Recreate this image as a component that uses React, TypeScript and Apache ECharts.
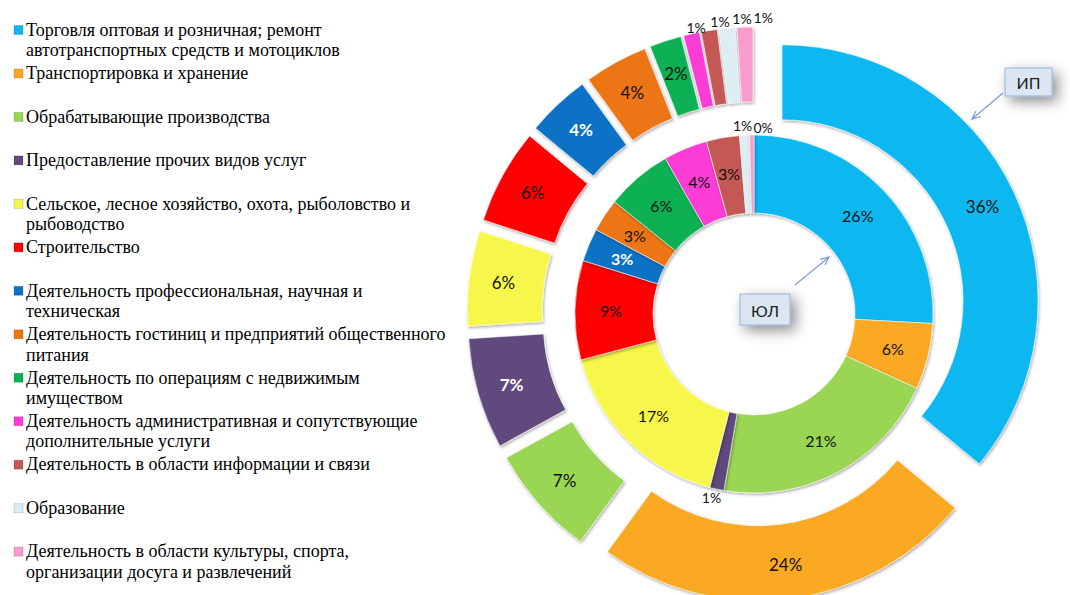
import React, { useEffect, useRef } from "react";
import * as echarts from "echarts";

// ---- data ----
const categories: string[] = [
  "Торговля оптовая и розничная; ремонт\nавтотранспортных средств и мотоциклов",
  "Транспортировка и хранение",
  "Обрабатывающие производства",
  "Предоставление прочих видов услуг",
  "Сельское, лесное хозяйство, охота, рыболовство и\nрыбоводство",
  "Строительство",
  "Деятельность профессиональная, научная и\nтехническая",
  "Деятельность гостиниц и предприятий общественного\nпитания",
  "Деятельность по операциям с недвижимым\nимуществом",
  "Деятельность административная и сопутствующие\nдополнительные услуги",
  "Деятельность в области информации и связи",
  "Образование",
  "Деятельность в области культуры, спорта,\nорганизации досуга и развлечений",
];

// ЮЛ (inner ring), percent
const innerValues: number[] = [26, 6, 21, 1.3, 17, 9, 3, 3, 6, 4, 3, 0.9, 0.4];
// ИП (outer ring), percent
const outerValues: number[] = [36, 24, 7, 7, 6, 6, 4, 4, 2, 1, 1, 1, 1];

const innerName = "ЮЛ";
const outerName = "ИП";

// ---- styles ----
const colors: string[] = [
  "#0BB8F0",
  "#FBA823",
  "#9AD652",
  "#604A7B",
  "#F7F74C",
  "#FF0000",
  "#0C72C6",
  "#EC7614",
  "#0CB152",
  "#FB3CD5",
  "#C45855",
  "#DCEDF3",
  "#F99BCB",
];
const whiteLabelInner = new Set([6]);
const whiteLabelOuter = new Set([3, 6]);

const CX = 754;
const CY = 314;
const EXPLODE = 31;
const INNER_R: [number, number] = [101, 179];
const OUTER_R: [number, number] = [181, 256];
const LABEL_FONT = "Lato";

// label nudges for small outside labels
const outerSmallOffsets: Record<number, [number, number]> = {
  9: [20, -3],
  10: [26, -6],
  11: [30, -7],
  12: [33, -7],
};
const innerOutsideOffsets: Record<number, [number, number]> = {
  3: [10, 5],
  11: [13, -7],
  12: [26, -5],
};

const blank = {
  color: "rgba(0,0,0,0)",
  borderWidth: 0,
  shadowBlur: 0,
  shadowColor: "rgba(0,0,0,0)",
};

function sliceStyle(c: string) {
  return {
    color: c,
    borderColor: "rgba(255,255,255,0.55)",
    borderWidth: 1,
    shadowBlur: 3,
    shadowOffsetX: 1,
    shadowOffsetY: 1.5,
    shadowColor: "rgba(0,0,0,0.35)",
  };
}

function arrowHead(x1: number, y1: number, x2: number, y2: number, len = 9, spread = 0.42) {
  const a = Math.atan2(y1 - y2, x1 - x2);
  return [
    [x2 + len * Math.cos(a + spread), y2 + len * Math.sin(a + spread)],
    [x2, y2],
    [x2 + len * Math.cos(a - spread), y2 + len * Math.sin(a - spread)],
  ];
}

function buildOption() {
  const outerTotal = outerValues.reduce((s, v) => s + v, 0);
  let acc = 0;
  const outerSeries = outerValues.map((v, i) => {
    const before = acc;
    acc += v;
    const mid = ((before + v / 2) / outerTotal) * Math.PI * 2;
    const center = [CX + EXPLODE * Math.sin(mid), CY - EXPLODE * Math.cos(mid)];
    const small = v / outerTotal < 0.015;
    const off = outerSmallOffsets[i] || [0, 0];
    return {
      type: "pie",
      name: outerName,
      silent: true,
      startAngle: 90,
      clockwise: true,
      radius: OUTER_R,
      center,
      avoidLabelOverlap: false,
      labelLayout: { hideOverlap: false },
      z: 2,
      labelLine: { show: false, length: 3, length2: 0 },
      data: [
        { value: before, name: "_before", itemStyle: blank, label: { show: false } },
        {
          value: v,
          name: categories[i],
          itemStyle: sliceStyle(colors[i]),
          label: {
            show: true,
            position: small ? "outside" : "inside",
            formatter: (p: any) => Math.round(p.value) + "%",
            color: whiteLabelOuter.has(i) ? "#FFFFFF" : "#111111",
            fontFamily: LABEL_FONT,
            fontSize: small ? 14 : 17,
            fontWeight: whiteLabelOuter.has(i) ? "bold" : "normal",
            offset: off,
          },
        },
        { value: outerTotal - before - v, name: "_after", itemStyle: blank, label: { show: false } },
      ],
    };
  });

  const innerSeries = {
    type: "pie",
    name: innerName,
    silent: true,
    startAngle: 90,
    clockwise: true,
    radius: INNER_R,
    center: [CX, CY],
    avoidLabelOverlap: false,
    labelLayout: { hideOverlap: false },
    z: 2,
    labelLine: { show: false, length: 3, length2: 0 },
    data: innerValues.map((v, i) => {
      const outside = v < 1.5;
      return {
        value: v,
        name: categories[i],
        itemStyle: sliceStyle(colors[i]),
        label: {
          show: true,
          position: outside ? "outside" : "inside",
          formatter: (p: any) => Math.round(p.value) + "%",
          color: whiteLabelInner.has(i) ? "#FFFFFF" : "#111111",
          fontFamily: LABEL_FONT,
          fontSize: outside ? 14 : 16,
          fontWeight: whiteLabelInner.has(i) ? "bold" : "normal",
          offset: innerOutsideOffsets[i] || [0, 0],
        },
        labelLine: { show: false },
      };
    }),
  };

  // legend drawn as graphic (icon aligned with first line)
  const legendGraphics: any[] = [];
  const step = 43.47;
  categories.forEach((name, i) => {
    const y = 30 + i * step;
    legendGraphics.push({
      type: "rect",
      shape: { x: 14, y: y - 4.5, width: 9, height: 9 },
      style: {
        fill: colors[i],
        stroke: "rgba(0,0,0,0.25)",
        lineWidth: 0.6,
      },
      silent: true,
    });
    legendGraphics.push({
      type: "text",
      x: 26,
      y: y - 10.5,
      style: {
        text: name,
        font: '18px "Liberation Serif", "Times New Roman", serif',
        fill: "#000000",
        lineHeight: 20.5,
        verticalAlign: "top",
        align: "left",
      },
      silent: true,
    });
  });

  const calloutStyle = {
    fill: "#DCE6F3",
    stroke: "#93B1D9",
    lineWidth: 1,
    shadowBlur: 14,
    shadowOffsetX: 5,
    shadowOffsetY: 5,
    shadowColor: "rgba(0,0,0,0.45)",
  };
  const arrowStroke = { stroke: "#7C9CD2", lineWidth: 1.2, fill: "none" };

  const callouts: any[] = [
    // ИП
    { type: "rect", shape: { x: 1005, y: 68, width: 47, height: 28 }, style: calloutStyle, z: 10 },
    {
      type: "text",
      x: 1028.5,
      y: 82,
      style: { text: outerName, font: '16px "Lato", sans-serif', fill: "#222", align: "center", verticalAlign: "middle" },
      z: 11,
    },
    { type: "line", shape: { x1: 1003, y1: 93, x2: 972, y2: 119 }, style: arrowStroke, z: 10 },
    { type: "polyline", shape: { points: arrowHead(1003, 93, 972, 119) }, style: arrowStroke, z: 10 },
    // ЮЛ
    { type: "rect", shape: { x: 740, y: 294, width: 50, height: 31 }, style: calloutStyle, z: 10 },
    {
      type: "text",
      x: 765,
      y: 310,
      style: { text: innerName, font: '16px "Lato", sans-serif', fill: "#222", align: "center", verticalAlign: "middle" },
      z: 11,
    },
    { type: "line", shape: { x1: 795, y1: 285, x2: 829, y2: 257 }, style: arrowStroke, z: 10 },
    { type: "polyline", shape: { points: arrowHead(795, 285, 829, 257) }, style: arrowStroke, z: 10 },
  ];

  return {
    animation: false,
    backgroundColor: "#FFFFFF",
    series: [innerSeries, ...outerSeries],
    graphic: { elements: [...legendGraphics, ...callouts] },
  };
}

export default function App() {
  const ref = useRef<HTMLDivElement>(null);
  useEffect(() => {
    if (!ref.current) return;
    const chart = echarts.init(ref.current, undefined, { renderer: "svg" });
    chart.setOption(buildOption() as any);
    return () => chart.dispose();
  }, []);
  return (
    <div
      ref={ref}
      style={{ position: "fixed", left: 0, top: 0, width: 1070, height: 595, background: "#fff" }}
    />
  );
}
